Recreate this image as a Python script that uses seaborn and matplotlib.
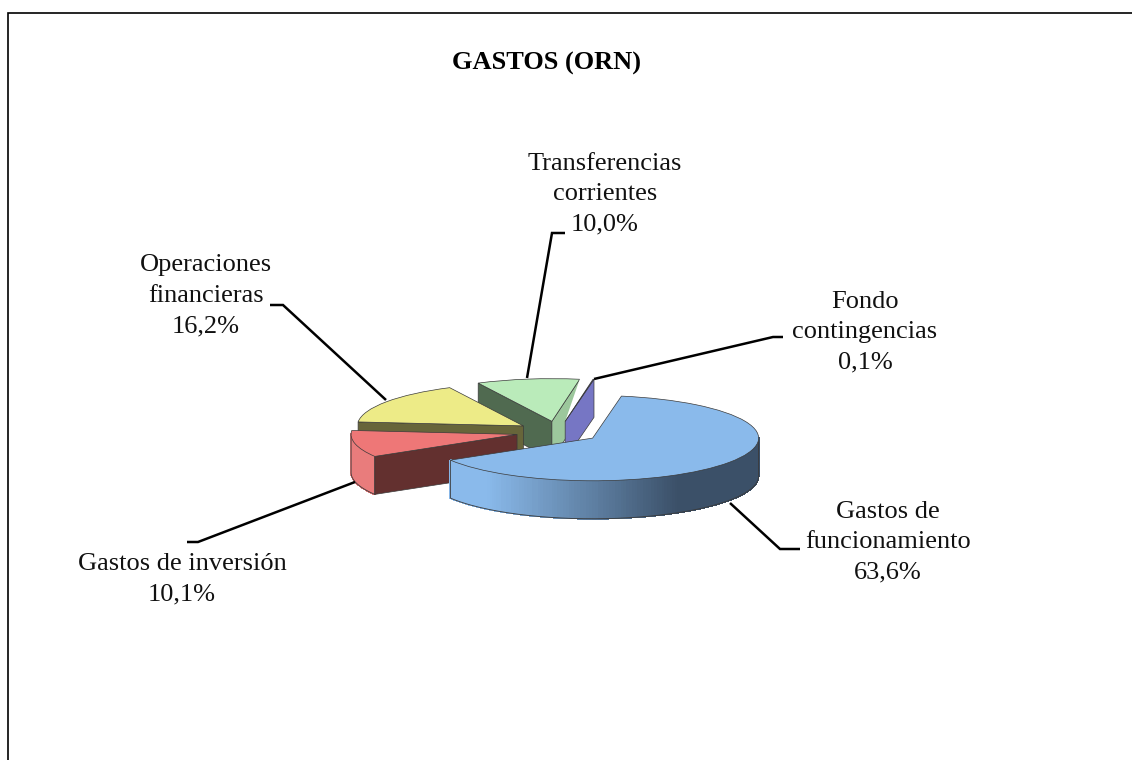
import numpy as np
import matplotlib
matplotlib.use("Agg")
import matplotlib.pyplot as plt
from matplotlib.patches import Polygon
import seaborn as sns

# ---- data ----
categories = ["Gastos de\nfuncionamiento", "Gastos de inversión", "Operaciones\nfinancieras",
              "Transferencias\ncorrientes", "Fondo\ncontingencias"]
values = [63.6, 10.1, 16.2, 10.0, 0.1]
title = "GASTOS (ORN)"

# ---- styles ----
top_colors = ["#8ABAEB", "#EE7777", "#EDEB87", "#BAEBBA", "#7676C4"]
rim_colors = ["#8ABAEB", "#E97C7C", "#BDBB6C", "#9CC79C", "#7676C4"]
start_face = [None, "#63302F", "#67653A", "#506A50", None]
end_face = [None, None, None, "#9CC79C", "#7676C4"]
draw_rank = [4, 3, 2, 0, 1]     # painter's order
W, H = 1132, 760
K = 0.257                       # vertical squash of the pie
DEPTH = 38 / K
R = 166
CENTER = (558, (H - 432) / K)
EXPLODE = 42                    # pie() offsets slices in data units
EDGE = "#3a3a3a"

sns.set_theme(style="white")
plt.rcParams["font.family"] = ["Liberation Serif", "DejaVu Serif"]

fig = plt.figure(figsize=(W / 100, H / 100), dpi=100, facecolor="white")
ax = fig.add_axes([0, 0, 1, 1])
wedges, _ = ax.pie(values, explode=[EXPLODE] * len(values), startangle=80, counterclock=False,
                   radius=R, center=CENTER, colors=top_colors,
                   wedgeprops=dict(edgecolor=EDGE, linewidth=0.5))
ax.set_aspect("auto")
ax.set_xlim(0, W)
ax.set_ylim(0, H / K)
ax.axis("off")


def pt(w, ang):
    a = np.radians(ang)
    return np.array([w.center[0] + w.r * np.cos(a), w.center[1] + w.r * np.sin(a)])


def quad(p, q, color, z):
    d = np.array([0, DEPTH])
    ax.add_patch(Polygon([p, q, q - d, p - d], closed=True, facecolor=color,
                         edgecolor=EDGE, linewidth=0.5, zorder=z))


gradient = sns.blend_palette(["#8ABAEB", "#3B5068"], 101)

for i, w in enumerate(wedges):
    z = 10 * (draw_rank[i] + 1)
    w.set_zorder(z + 5)
    c = np.array(w.center)
    # clockwise slices: theta2 is the start of the slice, theta1 its end
    if start_face[i]:
        quad(c, pt(w, w.theta2), start_face[i], z + 2)
    if end_face[i]:
        quad(c, pt(w, w.theta1), end_face[i], z + 3)
    # visible part of the outer rim
    angles = np.arange(np.floor(w.theta1), np.ceil(w.theta2) + 1, 1.0)
    outline = []
    for a0, a1 in zip(angles[:-1], angles[1:]):
        a0c, a1c = max(a0, w.theta1), min(a1, w.theta2)
        if a0c >= a1c or np.sin(np.radians((a0c + a1c) / 2)) > 0.02:
            continue
        p, q = pt(w, a0c), pt(w, a1c)
        if i == 0:
            t = np.clip(((p[0] + q[0]) / 2 - 449) / 309, 0, 1)
            col = gradient[int(np.clip((t - 0.12) / 0.62, 0, 1) * 100)]
        else:
            col = rim_colors[i]
        d = np.array([0, DEPTH])
        ax.add_patch(Polygon([p, q, q - d, p - d], closed=True, facecolor=col,
                             edgecolor=col, linewidth=0.6, antialiased=False, zorder=z + 1))
        outline.extend([p - d, q - d])
    if len(outline) > 2:
        top_a = outline[0] + np.array([0, DEPTH])
        top_b = outline[-1] + np.array([0, DEPTH])
        path = np.array([top_a] + outline + [top_b])
        ax.plot(path[:, 0], path[:, 1], color=EDGE, lw=0.6, zorder=z + 1.5)

# white sliver between the last two slices, taken from their own edges
g, f = wedges[3], wedges[4]
ax.add_patch(Polygon([pt(g, g.theta1), pt(f, f.theta2), np.array(f.center)], closed=True,
                     facecolor="white", edgecolor="none", zorder=10 * (draw_rank[4] + 1) + 2.5))

# ---- overlay in pixel units: frame lines, leaders, text ----
ov = fig.add_axes([0, 0, 1, 1], facecolor="none")
ov.set_xlim(0, W)
ov.set_ylim(H, 0)
ov.axis("off")
ov.plot([7.5, 7.5, W], [H, 12.5, 12.5], color="black", lw=1.2, solid_joinstyle="miter")

leaders = [
    ([730, 780, 800], [503, 549, 549]),
    ([355, 198, 187], [482, 542, 542]),
    ([386, 283, 270], [400, 305, 305]),
    ([527, 552, 565], [378, 233, 233]),
    ([594, 773, 783], [379, 337, 337]),
]
for xs, ys in leaders:
    ov.plot(xs, ys, color="black", lw=1.8, solid_joinstyle="miter", solid_capstyle="butt")

label_pos = [(888, 542), (182, 579.5), (206, 296), (605, 194), (865, 332)]
for cat, val, (x, y) in zip(categories, values, label_pos):
    txt = f"{cat}\n{val:.1f}%".replace(".", ",")
    ov.text(x, y, txt, ha="center", va="center", fontsize=19, color="#111111",
            linespacing=1.5, multialignment="center")

ov.text(547, 63.5, title, ha="center", va="center", fontsize=19, fontweight="bold", color="black")

fig.savefig("out.png", dpi=100, facecolor="white")
